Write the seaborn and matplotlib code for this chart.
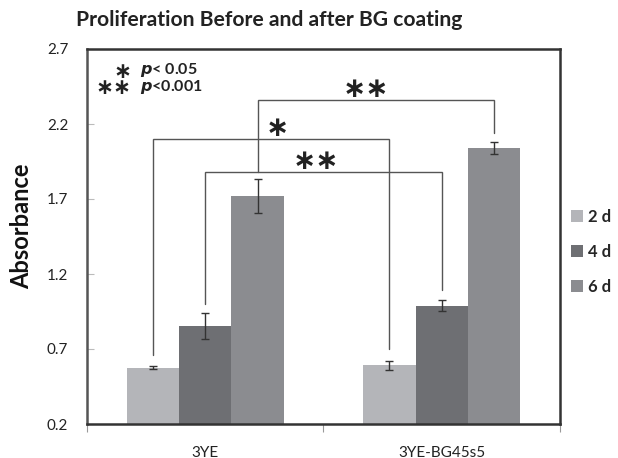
import numpy as np
import pandas as pd
import matplotlib
matplotlib.use("Agg")
import matplotlib.pyplot as plt
from matplotlib.patches import Patch
import seaborn as sns

# ---- data ----
groups = ["3YE", "3YE-BG45s5"]
days = ["2 d", "4 d", "6 d"]
vals_3ye = [0.575, 0.855, 1.72]
vals_bg = [0.591, 0.989, 2.038]
err_3ye = [0.011, 0.085, 0.113]
err_bg = [0.029, 0.038, 0.039]
yticks = [0.2, 0.7, 1.2, 1.7, 2.2, 2.7]
title = "Proliferation Before and after BG coating"
ylabel = "Absorbance"

# significance brackets: (group_a, day_a, group_b, day_b, top, left_bottom, right_bottom, label, label_dx)
brackets = [
    (0, 0, 1, 0, 2.10, 0.66, 0.698, "∗", 0.025),
    (0, 1, 1, 1, 1.88, 1.00, 1.093, "∗∗", -0.034),
    (0, 2, 1, 2, 2.358, 1.88, 2.142, "∗∗", -0.042),
]

colors = ["#b4b5b9", "#6e6f73", "#8b8c90"]

df = pd.DataFrame({
    "group": [g for g in groups for _ in days],
    "day": days * len(groups),
    "value": vals_3ye + vals_bg,
    "err": err_3ye + err_bg,
})

sns.set_theme(style="white")
plt.rcParams["font.family"] = ["Lato", "DejaVu Sans"]

fig = plt.figure(figsize=(6.18, 4.58), dpi=100)
ax = fig.add_axes([87 / 618, 34 / 458, (560 - 87) / 618, (424 - 49) / 458])

width = 0.665
sns.barplot(data=df, x="group", y="value", hue="day", order=groups, hue_order=days,
            palette=colors, width=width, gap=0, errorbar=None, saturation=1,
            linewidth=0, ax=ax, legend=False)

# error bars placed at bar centres from the library's own patches
centers = {}
for i, d in enumerate(days):
    for j, g in enumerate(groups):
        p = ax.patches[i * len(groups) + j]
        cx = p.get_x() + p.get_width() / 2
        centers[(j, i)] = cx
        row = df[(df.group == g) & (df.day == d)].iloc[0]
        ax.errorbar(cx, row.value, yerr=row.err, fmt="none", ecolor="#333333",
                    elinewidth=1.0, capsize=2.6, capthick=1.0, zorder=5)

# brackets
bcol = "#555555"
for ga, da, gb, db, top, lb, rb, lab, dx in brackets:
    xa = centers[(ga, da)]
    xb = centers[(gb, db)]
    ax.plot([xa, xa, xb, xb], [lb, top, top, rb], color=bcol, lw=1.0, zorder=4,
            solid_joinstyle="miter")
    ax.text((xa + xb) / 2 + dx, top + 0.075, lab, ha="center", va="center",
            fontsize=20, fontweight="bold", color="#222222",
            family=["DejaVu Sans"])

ax.set_ylim(0.2, 2.7)
ax.set_xlim(-0.5, 1.5)
ax.set_yticks(yticks)
ax.set_yticklabels([f"{t:.1f}" for t in yticks])
ax.tick_params(axis="y", direction="in", length=5, width=0.8, color="#bbbbbb",
               pad=13.5, labelsize=11, labelcolor="#222222", left=True)
ax.set_xticks([-0.5, 0.5, 1.5], minor=False)
ax.set_xticklabels(["", "", ""])
ax.set_xticks([0, 1], minor=True)
ax.set_xticklabels(groups, minor=True)
ax.tick_params(axis="x", which="major", direction="out", length=6, width=0.8,
               color="#999999", bottom=True)
ax.tick_params(axis="x", which="minor", length=0, pad=15.5, labelsize=11,
               labelcolor="#222222")
ax.set_xlabel("")
ax.set_ylabel(ylabel, fontsize=17, fontweight="bold", color="#111111")
ax.yaxis.set_label_coords(-0.114, 0.528)
for s in ax.spines.values():
    s.set_visible(True)
    s.set_color("#333333")
    s.set_linewidth(1.8)
ax.spines["left"].set_color("#555555")

fig.suptitle(title, x=269 / 618, y=1 - 10 / 458, va="top", fontsize=15.2,
             fontweight="bold", color="#222222")

# p-value key
ax.text(-0.31, 2.493, "∗\n∗∗", ha="right", va="center", multialignment="right",
        linespacing=0.8, fontsize=15.5, fontweight="bold",
        color="#222222", family=["DejaVu Sans"])
ax.text(-0.275, 2.56, r"$\bfit{p}$< 0.05", ha="left", va="center", fontsize=11.5,
        fontweight="bold", color="#222222")
ax.text(-0.275, 2.447, r"$\bfit{p}$<0.001", ha="left", va="center", fontsize=11.5,
        fontweight="bold", color="#222222")

handles = [Patch(facecolor=c, edgecolor="none") for c in colors]
leg = ax.legend(handles, days, loc="upper left", bbox_to_anchor=(1.009, 0.592),
                frameon=False, handlelength=0.7, handleheight=0.7,
                handletextpad=0.35, labelspacing=1.14, borderaxespad=0,
                prop={"weight": "bold", "size": 12})

fig.savefig("out.png", dpi=100, facecolor="white")
